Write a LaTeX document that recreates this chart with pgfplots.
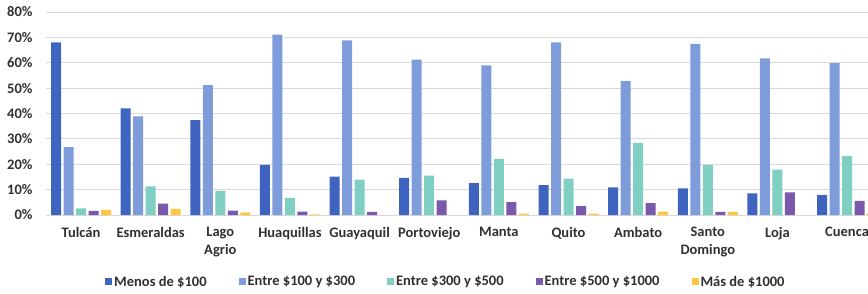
\documentclass[border=0pt]{standalone}
\usepackage{pgfplots}
\usepackage{pgfplotstable}
\pgfplotsset{compat=1.18}
\usepackage{fontspec}
\setmainfont{Carlito}
\definecolor{c1}{HTML}{3F64C0}
\definecolor{c2}{HTML}{7F9CDA}
\definecolor{c3}{HTML}{7FCFC3}
\definecolor{c4}{HTML}{7A58AB}
\definecolor{c5}{HTML}{FFC740}
\definecolor{gridc}{HTML}{D9D9D9}
\definecolor{txt}{HTML}{303030}
\pgfplotstableread{
x a b c d e
0 68.0 26.8 2.6 1.6 2.0
1 42.0 38.9 11.3 4.5 2.4
2 37.4 51.2 9.5 1.7 1.0
3 19.8 71.1 6.7 1.3 0.2
4 15.1 68.8 13.9 1.2 0.0
5 14.6 61.2 15.5 5.8 0.0
6 12.6 59.0 22.1 5.1 0.5
7 11.8 68.0 14.3 3.5 0.5
8 10.9 52.8 28.4 4.7 1.3
9 10.5 67.4 19.8 1.2 1.2
10 8.5 61.7 17.9 8.9 0.0
11 7.9 59.9 23.3 5.6 0.5
}\data
\begin{document}
\begin{tikzpicture}
\begin{axis}[
  at={(0,0)}, anchor=south west,
  scale only axis, width=835.7pt, height=203pt,
  xmin=-0.5, xmax=11.5, ymin=0, ymax=80,
  ybar=2.5pt, bar width=10pt,
  axis line style={draw=none},
  ymajorgrids, grid style={draw=gridc, line width=0.8pt},
  major tick length=0pt,
  ytick={0,10,...,80},
  yticklabels={0\%,10\%,20\%,30\%,40\%,50\%,60\%,70\%,80\%},
  xtick={0,...,11},
  xticklabels={Tulcán,Esmeraldas,Lago\\Agrio,Huaquillas,Guayaquil,Portoviejo,Manta,Quito,Ambato,Santo\\Domingo,Loja,Cuenca},
  tick label style={font=\fontsize{14.5}{18}\selectfont\bfseries, text=txt, inner sep=0pt},
  xticklabel style={align=center, anchor=north, yshift=-12pt},
  yticklabel style={anchor=east, xshift=-13.5pt},
  legend style={at={(0.0704,-0.33)}, anchor=west, draw=none, fill=none,
    font=\fontsize{14.5}{18}\selectfont\bfseries, text=txt, inner sep=0pt,
    /tikz/every even column/.append style={column sep=30pt}},
  legend columns=5,
  legend image code/.code={\fill[#1] (0pt,-3.5pt) rectangle (7pt,3.5pt);},
]
\addplot[fill=c1, draw=none] table[x=x,y=a]{\data};
\addplot[fill=c2, draw=none] table[x=x,y=b]{\data};
\addplot[fill=c3, draw=none] table[x=x,y=c]{\data};
\addplot[fill=c4, draw=none] table[x=x,y=d]{\data};
\addplot[fill=c5, draw=none] table[x=x,y=e]{\data};
\legend{Menos de \$100, Entre \$100 y \$300, Entre \$300 y \$500, Entre \$500 y \$1000, Más de \$1000}
\end{axis}
\pgfresetboundingbox
\path[use as bounding box] (-46.2pt,-78pt) rectangle (821.8pt,215pt);
\end{tikzpicture}
\end{document}
